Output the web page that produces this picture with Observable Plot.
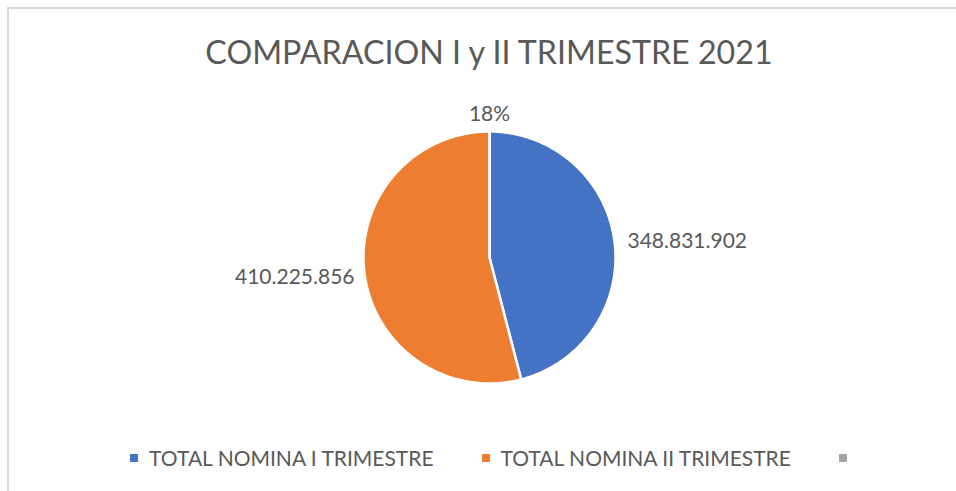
<!DOCTYPE html>
<html>
<head>
<meta charset="utf-8">
<script src="https://cdn.jsdelivr.net/npm/d3@7"></script>
<script src="https://cdn.jsdelivr.net/npm/@observablehq/plot@0.6"></script>
<style>
  html, body { margin: 0; padding: 0; background: #fff; overflow: hidden; }
  #chart { position: relative; width: 956px; height: 491px; overflow: hidden; font-family: Lato, "Open Sans", sans-serif; color: #595959; }
  #frame { position: absolute; left: 7px; top: 7px; width: 1000px; height: 600px; border-top: 2px solid #d9d9d9; border-left: 2px solid #d9d9d9; box-sizing: border-box; }
  #title { position: absolute; left: 0; top: 32px; width: 978px; text-align: center; font-size: 32.2px; line-height: 40px; white-space: nowrap; }
  #plot { position: absolute; left: 0; top: 88px; }
  #legend { position: absolute; left: 5px; top: 446px; width: 978px; display: flex; justify-content: center; gap: 48px; font-size: 21px; line-height: 24px; white-space: nowrap; }
  .item { display: flex; align-items: center; }
  .sw { width: 8px; height: 8px; margin-right: 11px; }
</style>
</head>
<body>
<div id="chart">
  <div id="frame"></div>
  <div id="title"></div>
  <div id="plot"></div>
  <div id="legend"></div>
</div>
<script>
const title = "COMPARACION I y II TRIMESTRE 2021";
const categories = ["TOTAL NOMINA I TRIMESTRE", "TOTAL NOMINA II TRIMESTRE", ""];
const values = [348831902, 410225856, 0.18];
const labelKinds = ["number", "number", "percent"];
const colors = ["#4472C4", "#ED7D31", "#A5A5A5"];

const locale = d3.formatLocale({decimal: ",", thousands: ".", grouping: [3], currency: ["", ""]});
const numFmt = locale.format(",.0f");
const pctFmt = d3.format(".0%");

const pie = d3.pie().sort(null).value(d => d.value)(
  categories.map((c, i) => ({category: c, value: values[i], kind: labelKinds[i], idx: i}))
);

// slice outlines in unit-circle coordinates (angle 0 at top, clockwise)
const slicePts = [];
pie.forEach(p => {
  const c = p.data.category || "(vacío)";
  slicePts.push({slice: c, x: 0, y: 0});
  const n = Math.max(2, Math.ceil((p.endAngle - p.startAngle) / (Math.PI / 360)));
  for (let k = 0; k <= n; k++) {
    const a = p.startAngle + (p.endAngle - p.startAngle) * k / n;
    slicePts.push({slice: c, x: Math.sin(a), y: Math.cos(a)});
  }
  slicePts.push({slice: c, x: 0, y: 0});
});

const labelR = 1.12;
const labels = pie.map(p => {
  const a = (p.startAngle + p.endAngle) / 2;
  const s = Math.sin(a);
  return {
    x: labelR * s,
    y: labelR * Math.cos(a),
    text: p.data.kind === "percent" ? pctFmt(p.data.value) : numFmt(p.data.value),
    anchor: Math.abs(s) < 0.2 ? "middle" : (s > 0 ? "start" : "end")
  };
});

const sliceDomain = pie.map(p => p.data.category || "(vacío)");

const textMark = (anchor, dx, dy) => Plot.text(labels.filter(d => d.anchor === anchor), {
  x: "x", y: "y", text: "text", textAnchor: anchor, dx, dy,
  fontSize: 21, fill: "#595959", fontFamily: "Lato"
});

const chart = Plot.plot({
  width: 956,
  height: 340,
  margin: 0,
  x: {domain: [-1, 1], range: [363, 615], axis: null},
  y: {domain: [-1, 1], range: [295, 43], axis: null},
  color: {domain: sliceDomain, range: colors},
  style: {fontFamily: "Lato", background: "transparent"},
  marks: [
    Plot.line(slicePts, {x: "x", y: "y", z: "slice", fill: "slice", stroke: "white", strokeWidth: 2.5, strokeLinejoin: "round", curve: "linear"}),
    textMark("start", -2, 2),
    textMark("end", 5, 2),
    textMark("middle", 0, -2)
  ]
});
document.getElementById("plot").appendChild(chart);
document.getElementById("title").textContent = title;

const legend = document.getElementById("legend");
categories.forEach((c, i) => {
  const item = document.createElement("div");
  item.className = "item";
  const sw = document.createElement("span");
  sw.className = "sw";
  sw.style.background = colors[i];
  item.appendChild(sw);
  if (c) {
    const t = document.createElement("span");
    t.textContent = c;
    item.appendChild(t);
  }
  legend.appendChild(item);
});
</script>
</body>
</html>
